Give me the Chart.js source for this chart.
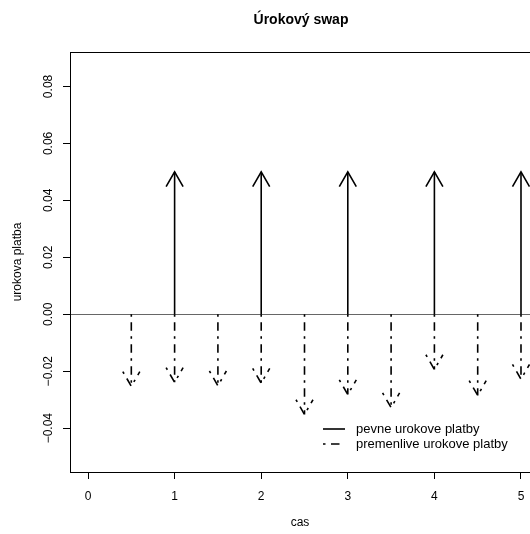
<!DOCTYPE html>
<html>
<head>
<meta charset="utf-8">
<script src="https://cdn.jsdelivr.net/npm/chart.js@4"></script>
<style>
  html, body { margin: 0; padding: 0; background: #fff; overflow: hidden; }
</style>
</head>
<body>
<canvas id="swap-chart" width="530" height="534"></canvas>
<script>
const fixedTimes = [1, 2, 3, 4, 5]
const fixedPayments = [0.05, 0.05, 0.05, 0.05, 0.05]
const floatTimes = [0.5, 1, 1.5, 2, 2.5, 3, 3.5, 4, 4.5, 5]
const floatPayments = [-0.0253, -0.0239, -0.0251, -0.0242, -0.0352, -0.0282, -0.0328, -0.0194, -0.0285, -0.0228]
const xTicks = [0, 1, 2, 3, 4, 5]
const yTicks = [-0.04, -0.02, 0, 0.02, 0.04, 0.06, 0.08]
const legendLabels = ["pevne urokove platby", "premenlive urokove platby"]

const FONT = "'Liberation Sans', Arial, Helvetica, sans-serif"
const DOTDASH = [2.5, 5.5, 8.5, 5.5]

let datasets = []
fixedTimes.forEach((t, i) => {
  datasets.push({
    data: [{x: t, y: 0}, {x: t, y: fixedPayments[i]}],
    borderColor: '#000',
    borderWidth: 1.6,
    showLine: true,
    pointRadius: 0
  })
})
floatTimes.forEach((t, i) => {
  datasets.push({
    data: [{x: t, y: 0}, {x: t, y: floatPayments[i]}],
    borderColor: '#000',
    borderWidth: 1.6,
    borderDash: DOTDASH,
    showLine: true,
    pointRadius: 0
  })
})

// R style open arrow heads at the end of each segment
const arrowHeads = {
  id: 'arrowHeads',
  afterDatasetsDraw(chart) {
    const ctx = chart.ctx
    const L = 17
    chart.data.datasets.forEach((ds, i) => {
      const pts = chart.getDatasetMeta(i).data
      const p0 = pts[0], p1 = pts[1]
      const a = Math.atan2(p1.y - p0.y, p1.x - p0.x)
      ctx.save()
      ctx.strokeStyle = '#000'
      ctx.lineWidth = ds.borderWidth
      ctx.setLineDash(ds.borderDash || [])
      ctx.beginPath()
      ctx.moveTo(p1.x - L * Math.cos(a - Math.PI / 6), p1.y - L * Math.sin(a - Math.PI / 6))
      ctx.lineTo(p1.x, p1.y)
      ctx.lineTo(p1.x - L * Math.cos(a + Math.PI / 6), p1.y - L * Math.sin(a + Math.PI / 6))
      ctx.stroke()
      ctx.restore()
    })
  }
}

const frameAndText = {
  id: 'frameAndText',
  afterDraw(chart) {
    const ctx = chart.ctx
    const area = chart.chartArea
    ctx.save()
    // top edge of the box
    ctx.strokeStyle = '#000'
    ctx.lineWidth = 1
    ctx.beginPath()
    ctx.moveTo(area.left, area.top + 0.5)
    ctx.lineTo(area.right, area.top + 0.5)
    ctx.stroke()

    // title
    ctx.fillStyle = '#000'
    ctx.font = "bold 14px " + FONT
    ctx.textAlign = 'center'
    ctx.textBaseline = 'middle'
    ctx.fillText("Úrokový swap", 301, 20)

    // legend
    const lx = 323, ly = 429, gap = 15
    ctx.lineWidth = 1.6
    ctx.beginPath()
    ctx.moveTo(lx, ly)
    ctx.lineTo(lx + 22, ly)
    ctx.stroke()
    ctx.setLineDash(DOTDASH)
    ctx.beginPath()
    ctx.moveTo(lx, ly + gap)
    ctx.lineTo(lx + 22, ly + gap)
    ctx.stroke()
    ctx.setLineDash([])
    ctx.font = "13px " + FONT
    ctx.textAlign = 'left'
    legendLabels.forEach((lab, i) => ctx.fillText(lab, lx + 33, ly + i * gap))
    ctx.restore()
  }
}

const sctx = document.getElementById("swap-chart").getContext("2d")

new Chart(sctx, {
  type: 'scatter',
  data: { datasets: datasets },
  plugins: [arrowHeads, frameAndText],
  options: {
    responsive: false,
    animation: false,
    layout: { padding: { top: 52, right: 0, left: 0, bottom: 0 } },
    plugins: {
      legend: { display: false },
      tooltip: { enabled: false }
    },
    scales: {
      x: {
        type: 'linear',
        min: -0.208,
        max: 5.104,
        afterBuildTicks: s => { s.ticks = xTicks.map(v => ({value: v})) },
        afterFit: s => { s.height = 62; s.paddingLeft = 0; s.paddingRight = 0 },
        ticks: {
          color: '#000',
          font: { family: FONT, size: 12 },
          padding: 10,
          maxRotation: 0,
          callback: v => String(v)
        },
        grid: { drawOnChartArea: false, drawTicks: true, tickLength: 7, tickColor: '#000' },
        border: { display: true, color: '#000', width: 1 },
        title: {
          display: true,
          text: 'cas',
          color: '#000',
          font: { family: FONT, size: 12 },
          padding: { top: 0, bottom: 4 }
        }
      },
      y: {
        type: 'linear',
        min: -0.0554,
        max: 0.0921,
        afterBuildTicks: s => { s.ticks = yTicks.map(v => ({value: v})) },
        afterFit: s => { s.width = 70; s.paddingTop = 0; s.paddingBottom = 0 },
        ticks: {
          color: '#000',
          font: { family: FONT, size: 12 },
          minRotation: 90,
          maxRotation: 90,
          crossAlign: 'center',
          padding: -1,
          callback: v => v.toFixed(2).replace('-', '\u2212')
        },
        grid: {
          drawOnChartArea: true,
          drawTicks: true,
          tickLength: 7,
          tickColor: '#000',
          color: c => (c.tick && c.tick.value === 0) ? '#666' : 'rgba(0,0,0,0)'
        },
        border: { display: true, color: '#000', width: 1 },
        title: {
          display: true,
          text: 'urokova platba',
          color: '#000',
          font: { family: FONT, size: 12 },
          padding: { top: 10, bottom: 0 }
        }
      }
    }
  }
})
</script>
</body>
</html>
